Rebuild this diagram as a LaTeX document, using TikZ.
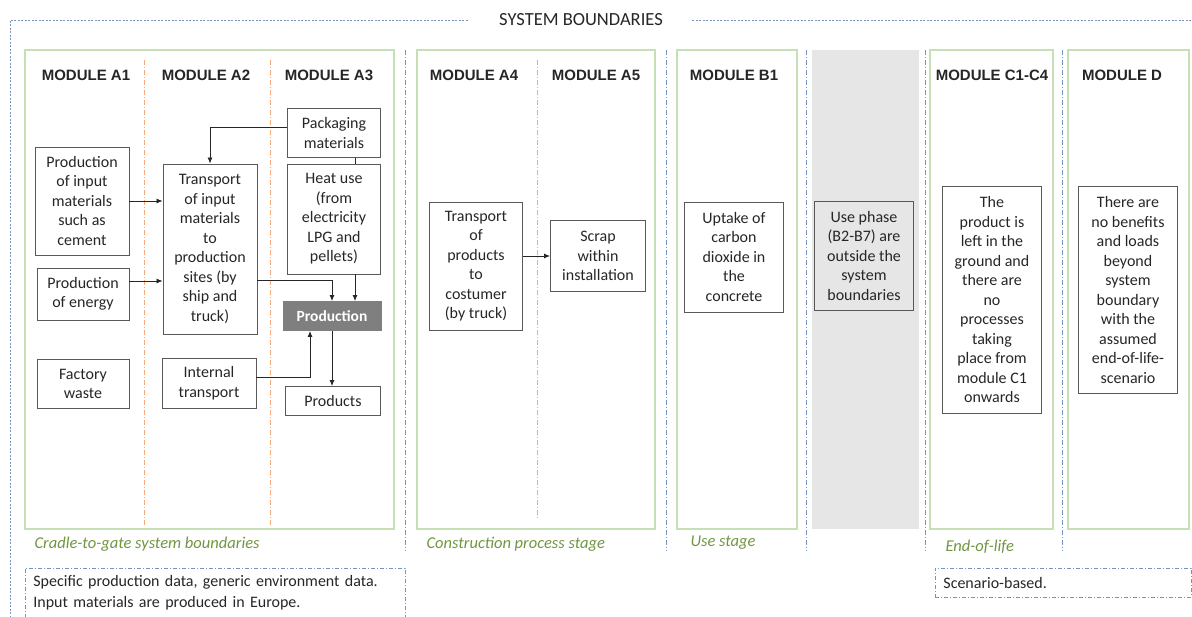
\documentclass[tikz,border=0pt]{standalone}
\usepackage{fontspec}
\setmainfont{Carlito}
\newfontfamily\headfont{Liberation Sans}
\usetikzlibrary{arrows.meta}

\definecolor{framegreen}{RGB}{197,224,180}
\definecolor{stagegreen}{RGB}{112,150,64}
\definecolor{sepblue}{RGB}{120,146,190}
\definecolor{divorange}{RGB}{244,170,125}
\definecolor{bandgray}{RGB}{231,230,230}
\definecolor{prodgray}{RGB}{127,127,127}
\definecolor{edgegray}{RGB}{89,89,89}
\definecolor{txt}{RGB}{38,38,38}

\begin{document}
\begin{tikzpicture}[x=1pt,y=-1pt,
    box/.style={draw=edgegray,line width=0.9pt,align=center,inner sep=1pt,
        font=\fontsize{16}{19.5}\selectfont,text=txt},
    sz/.style 2 args={minimum width=#1pt,minimum height=#2pt},
    prod/.style={fill=prodgray,draw=prodgray,text=white,
        font=\fontsize{15.5}{17}\selectfont\bfseries},
    head/.style={font=\headfont\bfseries\fontsize{15}{17}\selectfont,text=txt},
    stage/.style={anchor=west,text=stagegreen,font=\fontsize{16.5}{19}\selectfont\itshape},
    frame/.style={draw=framegreen,line width=1.4pt},
    sep/.style={draw=sepblue,line width=0.8pt,dash pattern=on 5pt off 2pt on 1pt off 2pt},
    div/.style={draw=divorange,line width=0.8pt,dash pattern=on 5pt off 2pt on 1pt off 2pt},
    outer/.style={draw=sepblue,line width=0.8pt,dash pattern=on 2pt off 1.5pt},
    note/.style={draw=sepblue,line width=0.8pt,dash pattern=on 4pt off 2pt on 1pt off 2pt,
        anchor=north west,align=left,inner xsep=8pt,text=txt,
        font=\fontsize{16}{21}\selectfont},
    flow/.style={->,>={Latex[length=6pt,width=5pt]},draw=txt,line width=0.8pt},
]
\useasboundingbox (0,0) rectangle (1192,617);

% system boundary
\node[font=\fontsize{18.5}{21}\selectfont,text=txt] (title) at (581,20) {SYSTEM BOUNDARIES};
\draw[outer] (title.west) ++(-28,0) -- (10,20) -- (10,617);
\draw[outer] (title.east) ++(26,0) -- (1192,20);

% stage frames
\fill[bandgray] (812,50) rectangle (919,529);
\draw[frame] (25,50) rectangle (394,529);
\draw[frame] (417,50) rectangle (655,529);
\draw[frame] (677,50) rectangle (797,529);
\draw[frame] (930,50) rectangle (1053,529);
\draw[frame] (1068,50) rectangle (1189,529);

% separators
\foreach \x in {405,666,806,925,1062}
    \draw[sep] (\x,50) -- (\x,551);
\foreach \x in {144,270}
    \draw[div] (\x,60) -- (\x,526);
\draw[div] (537,60) -- (537,519);

% module headings
\node[head] (hA1) at (86,75) {MODULE A1};
\node[head] (hA2) at (206,75) {MODULE A2};
\node[head] (hA3) at (329,75) {MODULE A3};
\node[head] (hA4) at (474,75) {MODULE A4};
\node[head] (hA5) at (596,75) {MODULE A5};
\node[head] (hB1) at (734,75) {MODULE B1};
\node[head] (hC) at (992,75) {MODULE C1-C4};
\node[head] (hD) at (1122,75) {MODULE D};

% A1-A3
\node[box,sz={94}{108}] (inp) at (82,201) {Production\\of input\\materials\\such as\\cement};
\node[box,sz={92}{52}] (energy) at (83,294) {Production\\of energy};
\node[box,sz={92}{49}] (waste) at (83,384) {Factory\\waste};
\node[box,sz={94}{170}] (trin) at (210,249) {Transport\\of input\\materials\\to\\production\\sites (by\\ship and\\truck)};
\node[box,sz={94}{50}] (itr) at (209,383) {Internal\\transport};
\node[box,sz={93}{49}] (pack) at (334,133) {Packaging\\materials};
\node[box,sz={93}{110}] (heat) at (334,219) {Heat use\\(from\\electricity\\LPG and\\pellets)};
\node[box,prod,sz={98}{29}] (prodn) at (332,316) {Production};
\node[box,sz={95}{29}] (products) at (333,401) {Products};

\draw[flow] ([yshift=6pt]pack.west) -| (trin.north);
\draw[flow] (inp.east) -- (inp.east -| trin.west);
\draw[flow] ([yshift=13pt]energy.east) -- ([yshift=13pt]energy.east -| trin.west);
\draw[flow] ([yshift=-31pt]trin.east) -| (prodn.north);
\draw[draw=txt,line width=0.8pt] ([xshift=21pt]pack.south) -- ([xshift=21pt]heat.north);
\draw[flow] ([xshift=21pt]heat.south) -- ([xshift=21pt]heat.south |- prodn.north);
\draw[flow] ([yshift=6pt]itr.east) -| ([xshift=-22pt]prodn.south);
\draw[flow] (prodn.south) -- (prodn.south |- products.north);

% A4-A5, B, C, D
\node[box,sz={93}{128}] (trout) at (476,266) {Transport\\of\\products\\to\\costumer\\(by truck)};
\node[box,sz={95}{71}] (scrap) at (598,256) {Scrap\\within\\installation};
\draw[flow] (trout.east |- scrap.west) -- (scrap.west);
\node[box,sz={99}{110}] (uptake) at (734,257) {Uptake of\\carbon\\dioxide in\\the\\concrete};
\node[box,fill=bandgray,sz={99}{109}] (usephase) at (864,256) {Use phase\\(B2-B7) are\\outside the\\system\\boundaries};
\node[box,sz={99}{227}] (eol) at (992,300) {The\\product is\\left in the\\ground and\\there are\\no\\processes\\taking\\place from\\module C1\\onwards};
\node[box,sz={99}{207}] (benef) at (1128,290) {There are\\no benefits\\and loads\\beyond\\system\\boundary\\with the\\assumed\\end-of-life-\\scenario};

% stage labels
\node[stage] (sA) at (31,544) {Cradle-to-gate system boundaries};
\node[stage] (sAB) at (423,544) {Construction process stage};
\node[stage] (sB) at (687,543) {Use stage};
\node[stage] (sC) at (942,547) {End-of-life};

% notes
\node[note,text width=364pt,minimum height=49pt] (noteA) at (25,568)
    {Specific production data, generic environment data.\\Input materials are produced in Europe.};
\node[note,text width=240pt,minimum height=29pt] (noteC) at (935,568) {Scenario-based.};
\end{tikzpicture}
\end{document}
